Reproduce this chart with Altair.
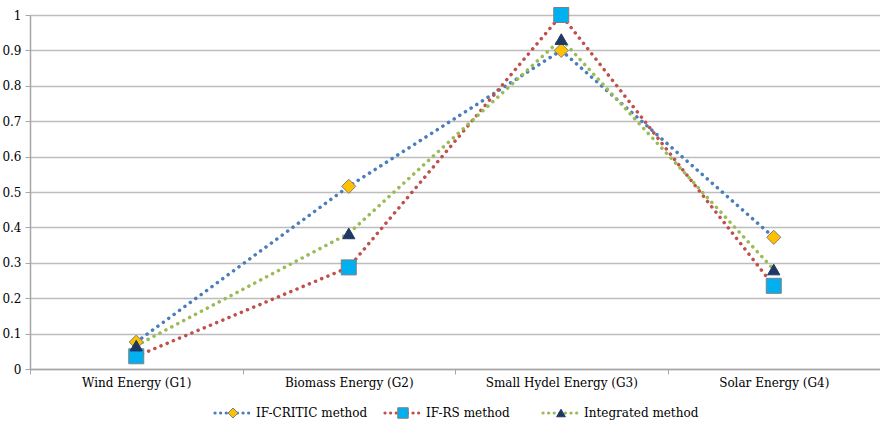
import altair as alt
import pandas as pd

# ---- data ----
categories = ["Wind Energy (G1)", "Biomass Energy (G2)", "Small Hydel Energy (G3)", "Solar Energy (G4)"]
series_names = ["IF-CRITIC method", "IF-RS method", "Integrated method"]
if_critic = [0.076, 0.516, 0.900, 0.372]
if_rs = [0.036, 0.287, 1.000, 0.235]
integrated = [0.066, 0.383, 0.932, 0.281]
y_ticks = [0, 0.1, 0.2, 0.3, 0.4, 0.5, 0.6, 0.7, 0.8, 0.9, 1]

# ---- style ----
FONT = "DejaVu Serif"
FS = 12
line_colors = ["#4a7ebb", "#c0504d", "#9bbb59"]
fill_colors = ["#ffc000", "#00b0f0", "#1f3864"]
stroke_colors = ["#7f7f7f", "#7f7f7f", "#1f3864"]
shapes = ["diamond", "square", "triangle-up"]
marker_sizes = [200, 225, 150]
legend_marker_sizes = [100, 110, 75]
W, H = 850, 354

rows = []
for name, vals in zip(series_names, [if_critic, if_rs, integrated]):
    for i, (c, v) in enumerate(zip(categories, vals)):
        rows.append({"category": c, "idx": i, "series": name, "value": v})
df = pd.DataFrame(rows)

band = alt.Scale(type="band", domain=categories, paddingInner=0, paddingOuter=0)
x_axis = alt.Axis(labelAngle=0, tickBand="extent", tickSize=5, labelPadding=3, grid=False,
                  labelFont=FONT, labelFontSize=FS)
y_axis = alt.Axis(values=y_ticks, format=".1~f", tickSize=5, labelOverlap=False, labelPadding=4,
                  labelFont=FONT, labelFontSize=FS)
x_enc = alt.X("category:N", sort=categories, title=None, scale=band, axis=x_axis)
y_enc = alt.Y("value:Q", title=None, scale=alt.Scale(domain=[0, 1], nice=False), axis=y_axis)

color_scale = alt.Scale(domain=series_names, range=line_colors)

lines = alt.Chart(df).mark_line(strokeWidth=3.5, strokeDash=[0.1, 6.6], strokeCap="round").encode(
    x=x_enc, y=y_enc,
    color=alt.Color("series:N", scale=color_scale, legend=None),
    order=alt.Order("idx:Q"),
)

point_layers = []
for name, shp, fc, sc, sz in zip(series_names, shapes, fill_colors, stroke_colors, marker_sizes):
    point_layers.append(
        alt.Chart(df).transform_filter(alt.datum.series == name).mark_point(
            filled=True, opacity=1, strokeWidth=1, shape=shp, fill=fc, stroke=sc, size=sz
        ).encode(x=x_enc, y=y_enc)
    )

main = alt.layer(lines, *point_layers)

# ---- manual legend (layout positions computed here, in pixels of the plot frame) ----
legend_starts = [215, 385, 543]   # window x where each entry's symbol starts
sym_len = 36
leg = pd.DataFrame({
    "series": series_names,
    "x0": [s - 30 for s in legend_starts],
    "x1": [s - 30 + sym_len for s in legend_starts],
    "xm": [s - 30 + sym_len / 2 for s in legend_starts],
    "xt": [s - 30 + sym_len + 5 for s in legend_starts],
})
lx = alt.Scale(domain=[0, W], range=[0, W])
leg_y = alt.value(398)

leg_lines = alt.Chart(leg).mark_rule(strokeWidth=3.2, strokeDash=[0.1, 5.5], strokeCap="round").encode(
    x=alt.X("x0:Q", scale=lx, axis=None), x2="x1:Q", y=leg_y,
    color=alt.Color("series:N", scale=color_scale, legend=None),
)
leg_pts = []
for name, shp, fc, sc, sz in zip(series_names, shapes, fill_colors, stroke_colors, legend_marker_sizes):
    leg_pts.append(
        alt.Chart(leg).transform_filter(alt.datum.series == name).mark_point(
            filled=True, opacity=1, strokeWidth=1, shape=shp, fill=fc, stroke=sc, size=sz
        ).encode(x=alt.X("xm:Q", scale=lx, axis=None), y=leg_y)
    )
leg_txt = alt.Chart(leg).mark_text(align="left", baseline="middle", font=FONT, fontSize=FS, color="#000000").encode(
    x=alt.X("xt:Q", scale=lx, axis=None), y=leg_y, text="series:N",
)

legend_layer = alt.layer(leg_lines, *leg_pts, leg_txt)

chart = alt.layer(main, legend_layer).resolve_scale(x="independent").properties(
    width=W, height=H,
    autosize=alt.AutoSizeParams(type="none"),
    padding={"left": 30, "top": 15, "right": 0, "bottom": 53},
).configure_view(stroke=None).configure(
    background="#ffffff", font=FONT
).configure_axis(
    labelFont=FONT, labelFontSize=FS, labelColor="#000000", tickColor="#a6a6a6",
    domainColor="#a6a6a6", domainWidth=1.5, gridColor="#bdbdbd", gridWidth=1.5,
).configure_text(font=FONT)

chart.save("out.html", embed_options={"renderer": "svg", "actions": False})
